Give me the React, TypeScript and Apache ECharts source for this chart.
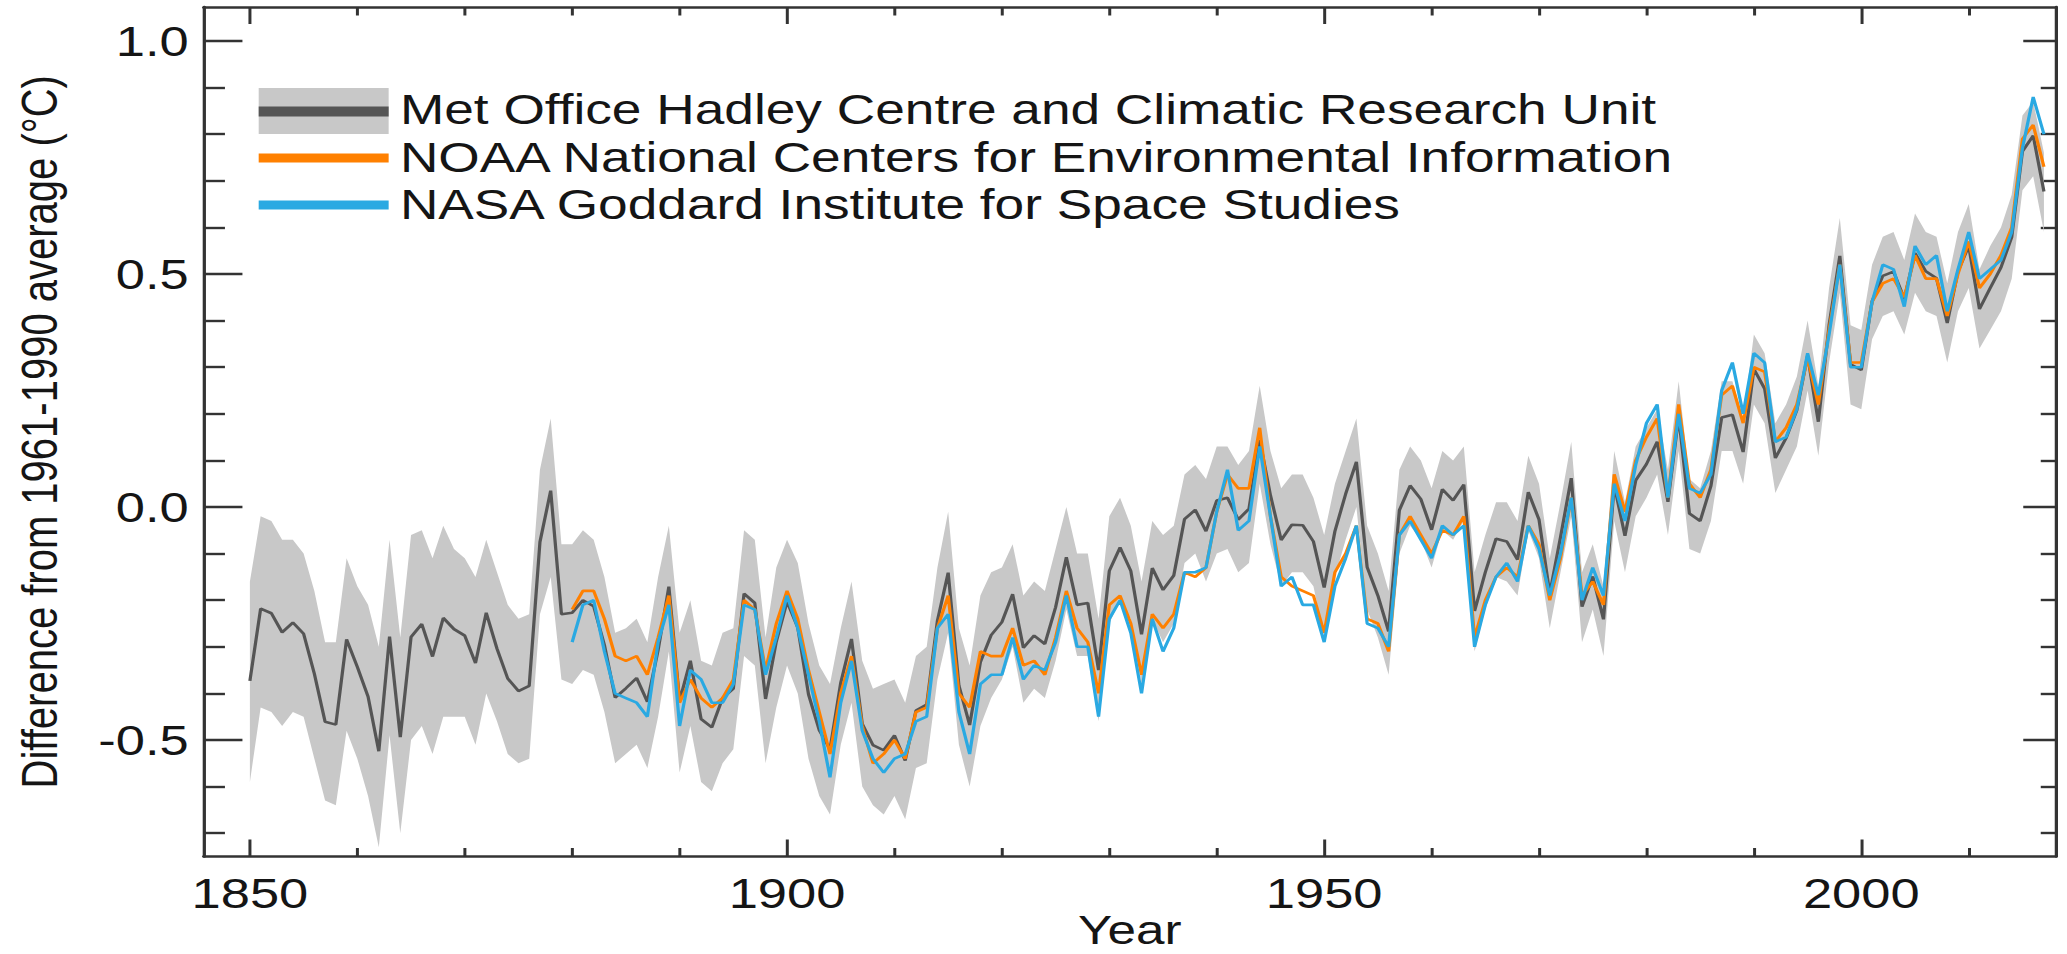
import React, { useEffect, useRef } from "react";
import * as echarts from "echarts";

// ---------------- data ----------------
const HADCRUT_START = 1850;
const hadcrut = [
  -0.373, -0.218, -0.228, -0.269, -0.248, -0.272, -0.358, -0.461, -0.467, -0.284,
  -0.343, -0.407, -0.524, -0.278, -0.494, -0.279, -0.251, -0.321, -0.238, -0.262,
  -0.276, -0.335, -0.227, -0.304, -0.368, -0.395, -0.384, -0.075, 0.035, -0.230,
  -0.227, -0.200, -0.213, -0.296, -0.409, -0.389, -0.367, -0.418, -0.307, -0.171,
  -0.416, -0.330, -0.455, -0.473, -0.410, -0.390, -0.186, -0.206, -0.412, -0.289,
  -0.203, -0.259, -0.402, -0.479, -0.520, -0.377, -0.283, -0.465, -0.511, -0.522,
  -0.490, -0.544, -0.437, -0.424, -0.244, -0.141, -0.383, -0.468, -0.333, -0.275,
  -0.247, -0.187, -0.302, -0.276, -0.294, -0.215, -0.108, -0.210, -0.206, -0.350,
  -0.137, -0.087, -0.137, -0.273, -0.131, -0.178, -0.147, -0.026, -0.006, -0.052,
  0.014, 0.020, -0.027, -0.004, 0.144, 0.025, -0.071, -0.038, -0.039, -0.074,
  -0.173, -0.052, 0.028, 0.097, -0.129, -0.190, -0.267, -0.007, 0.046, 0.017,
  -0.049, 0.038, 0.014, 0.048, -0.223, -0.140, -0.068, -0.074, -0.113, 0.032,
  -0.027, -0.186, -0.065, 0.062, -0.214, -0.149, -0.241, 0.047, -0.062, 0.057,
  0.092, 0.140, 0.011, 0.194, -0.014, -0.030, 0.045, 0.192, 0.198, 0.118,
  0.296, 0.254, 0.105, 0.148, 0.208, 0.325, 0.183, 0.390, 0.539, 0.306,
  0.294, 0.441, 0.496, 0.505, 0.447, 0.545, 0.506, 0.491, 0.395, 0.506,
  0.560, 0.425, 0.470, 0.514, 0.579, 0.763, 0.797, 0.677,
];
const hadcrutUpper = [
  -0.16, -0.02, -0.03, -0.07, -0.07, -0.10, -0.18, -0.29, -0.29, -0.11,
  -0.17, -0.21, -0.30, -0.07, -0.28, -0.06, -0.05, -0.11, -0.04, -0.09,
  -0.11, -0.15, -0.07, -0.14, -0.21, -0.24, -0.23, 0.08, 0.19, -0.08,
  -0.08, -0.05, -0.07, -0.15, -0.27, -0.26, -0.24, -0.29, -0.15, -0.04,
  -0.27, -0.20, -0.33, -0.34, -0.27, -0.26, -0.05, -0.07, -0.28, -0.13,
  -0.07, -0.12, -0.25, -0.34, -0.38, -0.26, -0.16, -0.33, -0.39, -0.38,
  -0.37, -0.42, -0.32, -0.30, -0.13, -0.01, -0.26, -0.34, -0.19, -0.14,
  -0.13, -0.08, -0.19, -0.16, -0.18, -0.09, 0.00, -0.10, -0.10, -0.24,
  -0.02, 0.02, -0.04, -0.16, -0.03, -0.06, -0.04, 0.07, 0.09, 0.06,
  0.13, 0.13, 0.09, 0.12, 0.26, 0.12, 0.04, 0.07, 0.07, 0.02,
  -0.06, 0.05, 0.12, 0.19, -0.04, -0.10, -0.18, 0.08, 0.13, 0.10,
  0.04, 0.12, 0.10, 0.13, -0.14, -0.06, 0.01, 0.01, -0.03, 0.11,
  0.05, -0.11, 0.01, 0.14, -0.14, -0.08, -0.17, 0.12, 0.01, 0.13,
  0.17, 0.21, 0.08, 0.27, 0.06, 0.04, 0.12, 0.27, 0.27, 0.19,
  0.37, 0.33, 0.18, 0.22, 0.28, 0.40, 0.26, 0.47, 0.62, 0.39,
  0.38, 0.52, 0.58, 0.59, 0.53, 0.63, 0.59, 0.58, 0.48, 0.59,
  0.65, 0.51, 0.56, 0.60, 0.67, 0.84, 0.87, 0.76,
];
const hadcrutLower = [
  -0.59, -0.43, -0.44, -0.47, -0.44, -0.45, -0.54, -0.63, -0.64, -0.48,
  -0.54, -0.62, -0.73, -0.49, -0.70, -0.50, -0.47, -0.53, -0.45, -0.45,
  -0.45, -0.51, -0.40, -0.46, -0.53, -0.55, -0.54, -0.23, -0.15, -0.37,
  -0.38, -0.35, -0.36, -0.44, -0.55, -0.53, -0.51, -0.56, -0.45, -0.31,
  -0.57, -0.47, -0.59, -0.61, -0.55, -0.52, -0.32, -0.34, -0.55, -0.43,
  -0.34, -0.40, -0.54, -0.62, -0.66, -0.51, -0.42, -0.60, -0.64, -0.66,
  -0.62, -0.67, -0.56, -0.55, -0.37, -0.27, -0.51, -0.60, -0.47, -0.41,
  -0.37, -0.30, -0.42, -0.39, -0.41, -0.33, -0.22, -0.32, -0.32, -0.46,
  -0.25, -0.20, -0.24, -0.38, -0.24, -0.29, -0.25, -0.12, -0.10, -0.16,
  -0.10, -0.09, -0.14, -0.12, 0.05, -0.08, -0.17, -0.14, -0.14, -0.17,
  -0.28, -0.15, -0.07, 0.00, -0.22, -0.28, -0.36, -0.10, -0.04, -0.07,
  -0.13, -0.05, -0.07, -0.03, -0.31, -0.22, -0.15, -0.16, -0.19, -0.05,
  -0.11, -0.26, -0.14, -0.02, -0.29, -0.22, -0.32, -0.03, -0.14, -0.02,
  0.02, 0.07, -0.06, 0.12, -0.09, -0.10, -0.03, 0.12, 0.12, 0.05,
  0.22, 0.18, 0.03, 0.08, 0.13, 0.25, 0.11, 0.31, 0.46, 0.22,
  0.21, 0.36, 0.41, 0.42, 0.37, 0.46, 0.42, 0.41, 0.31, 0.42,
  0.47, 0.34, 0.38, 0.42, 0.49, 0.68, 0.71, 0.59,
];

const NOAA_START = 1880;
const noaa = [
  -0.22, -0.18, -0.18, -0.24, -0.32, -0.33, -0.32, -0.36, -0.28, -0.19,
  -0.42, -0.37, -0.41, -0.43, -0.41, -0.37, -0.20, -0.22, -0.35, -0.25,
  -0.18, -0.24, -0.35, -0.44, -0.53, -0.40, -0.32, -0.47, -0.55, -0.53,
  -0.50, -0.54, -0.44, -0.43, -0.26, -0.19, -0.40, -0.43, -0.31, -0.32,
  -0.32, -0.26, -0.34, -0.33, -0.36, -0.28, -0.18, -0.26, -0.29, -0.40,
  -0.21, -0.19, -0.25, -0.36, -0.23, -0.26, -0.23, -0.14, -0.15, -0.13,
  -0.01, 0.07, 0.04, 0.04, 0.17, -0.02, -0.15, -0.17, -0.18, -0.19,
  -0.27, -0.14, -0.10, -0.04, -0.24, -0.25, -0.31, -0.06, -0.02, -0.06,
  -0.10, -0.05, -0.06, -0.02, -0.28, -0.20, -0.15, -0.13, -0.15, -0.04,
  -0.08, -0.20, -0.11, 0.02, -0.19, -0.16, -0.21, 0.07, -0.01, 0.10,
  0.15, 0.19, 0.02, 0.22, 0.05, 0.02, 0.08, 0.24, 0.26, 0.18,
  0.30, 0.29, 0.14, 0.17, 0.22, 0.32, 0.22, 0.38, 0.52, 0.31,
  0.31, 0.44, 0.48, 0.49, 0.45, 0.54, 0.49, 0.49, 0.41, 0.50,
  0.57, 0.47, 0.50, 0.54, 0.60, 0.79, 0.82, 0.73,
];

const NASA_START = 1880;
const nasa = [
  -0.29, -0.21, -0.20, -0.31, -0.40, -0.41, -0.42, -0.45, -0.29, -0.21,
  -0.47, -0.35, -0.37, -0.42, -0.42, -0.38, -0.21, -0.22, -0.36, -0.28,
  -0.19, -0.26, -0.36, -0.46, -0.58, -0.42, -0.33, -0.48, -0.54, -0.57,
  -0.54, -0.53, -0.46, -0.45, -0.26, -0.23, -0.44, -0.53, -0.38, -0.36,
  -0.36, -0.28, -0.37, -0.34, -0.35, -0.29, -0.19, -0.30, -0.30, -0.45,
  -0.24, -0.20, -0.27, -0.40, -0.24, -0.31, -0.26, -0.14, -0.14, -0.13,
  -0.01, 0.08, -0.05, -0.03, 0.13, -0.02, -0.17, -0.15, -0.21, -0.21,
  -0.29, -0.17, -0.11, -0.04, -0.25, -0.26, -0.30, -0.06, -0.03, -0.07,
  -0.11, -0.04, -0.06, -0.04, -0.30, -0.21, -0.15, -0.12, -0.16, -0.04,
  -0.09, -0.19, -0.10, 0.02, -0.20, -0.13, -0.19, 0.05, -0.03, 0.09,
  0.18, 0.22, 0.02, 0.20, 0.04, 0.03, 0.07, 0.25, 0.31, 0.20,
  0.33, 0.31, 0.14, 0.15, 0.21, 0.33, 0.24, 0.37, 0.52, 0.30,
  0.30, 0.44, 0.52, 0.51, 0.43, 0.56, 0.52, 0.54, 0.42, 0.51,
  0.59, 0.49, 0.51, 0.53, 0.59, 0.77, 0.88, 0.80,
];

const legendLabels = [
  "Met Office Hadley Centre and Climatic Research Unit",
  "NOAA National Centers for Environmental Information",
  "NASA Goddard Institute for Space Studies",
];
const xTitle = "Year";
const yTitle = "Difference from 1961-1990 average (°C)";

const xMajorTicks = [1850, 1900, 1950, 2000];
const xMinorTicks = [1860, 1870, 1880, 1890, 1910, 1920, 1930, 1940, 1960, 1970, 1980, 1990, 2010];
const yMajorTicks = [-0.5, 0.0, 0.5, 1.0];
const yMinorTicks = [-0.7, -0.6, -0.4, -0.3, -0.2, -0.1, 0.1, 0.2, 0.3, 0.4, 0.6, 0.7, 0.8, 0.9];

const X_MIN = 1845.7;
const X_MAX = 2018.1;
const Y_MIN = -0.75;
const Y_MAX = 1.073;

// ---------------- styling / layout ----------------
const OUT_W = 2067;
const OUT_H = 954;
const W = 1654; // drawn width, stretched horizontally to OUT_W
const STRETCH = OUT_W / W;

const FONT = "'Liberation Sans', Arial, Helvetica, sans-serif";
const AX = "#333333";
const TXT = "#151515";
const BAND = "#c8c8c8";
const GRAY = "#555555";
const ORANGE = "#ff8000";
const BLUE = "#2aa9e2";

function pairs(start: number, vals: number[]) {
  return vals.map((v, i) => [start + i, v]);
}

function buildOption() {
  const axisLine = { show: true, onZero: false, lineStyle: { color: AX, width: 2.6 } };
  const noLine = { show: false, onZero: false };
  const tick = (vals: number[], len: number) => ({
    show: true,
    inside: true,
    length: len,
    customValues: vals,
    lineStyle: { color: AX, width: 2.4 },
  });
  const baseX = { type: "value", min: X_MIN, max: X_MAX, splitLine: { show: false } };
  const baseY = { type: "value", min: Y_MIN, max: Y_MAX, splitLine: { show: false } };

  const legendY = [108.5, 157, 204];

  return {
    animation: false,
    backgroundColor: "#ffffff",
    grid: {
      left: 163,
      right: 9,
      top: 7,
      bottom: 97.5,
      containLabel: false,
      outerBoundsMode: "none",
    },
    xAxis: [
      {
        ...baseX,
        position: "bottom",
        axisLine,
        axisTick: tick(xMajorTicks, 17),
        axisLabel: {
          show: true,
          customValues: xMajorTicks,
          margin: 16,
          fontSize: 42,
          lineHeight: 42,
          fontFamily: FONT,
          color: TXT,
          formatter: (v: number) => String(Math.round(v)),
        },
        name: xTitle,
        nameLocation: "middle",
        nameGap: 54,
        nameMoveOverlap: false,
        nameTextStyle: { fontSize: 41, lineHeight: 38, fontFamily: FONT, color: TXT },
      },
      { ...baseX, position: "bottom", axisLine: noLine, axisTick: tick(xMinorTicks, 8.5), axisLabel: { show: false } },
      { ...baseX, position: "top", axisLine, axisTick: tick(xMajorTicks, 17), axisLabel: { show: false } },
      { ...baseX, position: "top", axisLine: noLine, axisTick: tick(xMinorTicks, 8.5), axisLabel: { show: false } },
    ],
    yAxis: [
      {
        ...baseY,
        position: "left",
        axisLine,
        axisTick: tick(yMajorTicks, 31),
        axisLabel: {
          show: true,
          customValues: yMajorTicks,
          margin: 12,
          fontSize: 42,
          lineHeight: 42,
          fontFamily: FONT,
          color: TXT,
          formatter: (v: number) => v.toFixed(1),
        },
        name: yTitle,
        nameLocation: "middle",
        nameGap: 111,
        nameMoveOverlap: false,
        nameTextStyle: { fontSize: 40, lineHeight: 40, fontFamily: FONT, color: TXT },
      },
      { ...baseY, position: "left", axisLine: noLine, axisTick: tick(yMinorTicks, 17), axisLabel: { show: false } },
      { ...baseY, position: "right", axisLine, axisTick: tick(yMajorTicks, 26), axisLabel: { show: false } },
      { ...baseY, position: "right", axisLine: noLine, axisTick: tick(yMinorTicks, 12), axisLabel: { show: false } },
    ],
    series: [
      {
        type: "custom",
        name: "HadCRUT uncertainty",
        xAxisIndex: 0,
        yAxisIndex: 0,
        silent: true,
        z: 1,
        data: hadcrut.map((v, i) => [HADCRUT_START + i, hadcrutLower[i], hadcrutUpper[i]]),
        encode: { x: 0, y: [1, 2] },
        renderItem: (params: any, api: any) => {
          if (params.dataIndex !== 0) return null;
          const pts: number[][] = [];
          for (let i = 0; i < hadcrutUpper.length; i++) pts.push(api.coord([HADCRUT_START + i, hadcrutUpper[i]]));
          for (let i = hadcrutLower.length - 1; i >= 0; i--) pts.push(api.coord([HADCRUT_START + i, hadcrutLower[i]]));
          return { type: "polygon", shape: { points: pts }, style: { fill: BAND } };
        },
      },
      {
        type: "line",
        name: legendLabels[0],
        xAxisIndex: 0,
        yAxisIndex: 0,
        z: 2,
        data: pairs(HADCRUT_START, hadcrut),
        symbol: "none",
        lineStyle: { color: GRAY, width: 2.6 },
        itemStyle: { color: GRAY },
      },
      {
        type: "line",
        name: legendLabels[1],
        xAxisIndex: 0,
        yAxisIndex: 0,
        z: 3,
        data: pairs(NOAA_START, noaa),
        symbol: "none",
        lineStyle: { color: ORANGE, width: 2.6 },
        itemStyle: { color: ORANGE },
      },
      {
        type: "line",
        name: legendLabels[2],
        xAxisIndex: 0,
        yAxisIndex: 0,
        z: 4,
        data: pairs(NASA_START, nasa),
        symbol: "none",
        lineStyle: { color: BLUE, width: 2.6 },
        itemStyle: { color: BLUE },
      },
    ],
    graphic: [
      { type: "rect", shape: { x: 207, y: 88, width: 104, height: 46 }, style: { fill: BAND }, z: 10 },
      { type: "rect", shape: { x: 207, y: 106.5, width: 104, height: 10 }, style: { fill: GRAY }, z: 11 },
      { type: "rect", shape: { x: 207, y: 153.5, width: 104, height: 9 }, style: { fill: ORANGE }, z: 11 },
      { type: "rect", shape: { x: 207, y: 200.5, width: 104, height: 9 }, style: { fill: BLUE }, z: 11 },
      ...legendLabels.map((t, i) => ({
        type: "text",
        x: 320,
        y: legendY[i],
        z: 11,
        style: {
          text: t,
          fontSize: 42.6,
          fontFamily: FONT,
          fill: TXT,
          textAlign: "left",
          textVerticalAlign: "middle",
        },
      })),
    ],
  };
}

export default function App() {
  const ref = useRef<HTMLDivElement>(null);
  useEffect(() => {
    if (!ref.current) return;
    const chart = echarts.init(ref.current, null, { renderer: "svg" });
    chart.setOption(buildOption() as any);
    return () => {
      chart.dispose();
    };
  }, []);
  return (
    <div
      style={{
        position: "fixed",
        left: 0,
        top: 0,
        width: OUT_W,
        height: OUT_H,
        overflow: "hidden",
        background: "#ffffff",
      }}
    >
      <div
        ref={ref}
        style={{
          width: W,
          height: OUT_H,
          transform: `scaleX(${STRETCH})`,
          transformOrigin: "0 0",
        }}
      />
    </div>
  );
}
